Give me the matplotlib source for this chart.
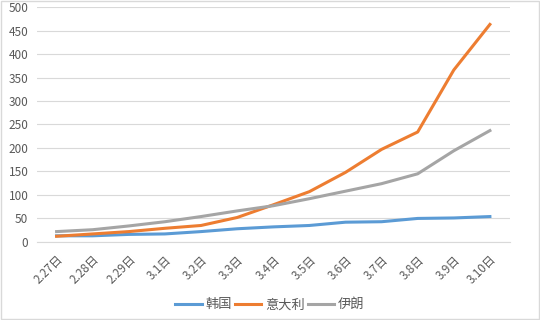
import matplotlib
matplotlib.use('Agg')
import matplotlib.pyplot as plt

plt.rcParams['font.family'] = ['Noto Sans CJK SC', 'DejaVu Sans']

dates = ['2.27日', '2.28日', '2.29日', '3.1日', '3.2日', '3.3日', '3.4日',
         '3.5日', '3.6日', '3.7日', '3.8日', '3.9日', '3.10日']
korea = [13, 13, 16, 17, 22, 28, 32, 35, 42, 43, 50, 51, 54]
italy = [12, 17, 22, 29, 35, 52, 79, 107, 148, 197, 234, 366, 463]
iran = [22, 26, 34, 43, 54, 66, 77, 92, 108, 124, 145, 194, 237]

fig = plt.figure(figsize=(5.4, 3.2), dpi=100)
ax = fig.add_axes([0.068, 0.244, 0.876, 0.734])

x = range(len(dates))
ax.plot(x, korea, color='#5B9BD5', lw=2.2, label='韩国')
ax.plot(x, italy, color='#ED7D31', lw=2.2, label='意大利')
ax.plot(x, iran, color='#A5A5A5', lw=2.2, label='伊朗')

ax.set_xlim(-0.55, len(dates) - 0.45)
ax.set_ylim(0, 500)
ax.set_yticks(range(0, 501, 50))
ax.set_xticks(list(x))
ax.set_xticklabels(dates, rotation=45, ha='right', rotation_mode='anchor')
ax.grid(axis='y', color='#D9D9D9', lw=0.8)
ax.set_axisbelow(True)
for s in ['top', 'right', 'left']:
    ax.spines[s].set_visible(False)
ax.spines['bottom'].set_color('#D9D9D9')
ax.tick_params(length=0, labelsize=8.5, colors='#595959')
ax.tick_params(axis='x', pad=8)
ax.tick_params(axis='y', pad=6)

fig.legend(loc='lower center', ncol=3, frameon=False, fontsize=9.5,
           bbox_to_anchor=(0.5, -0.01), handlelength=2.0, columnspacing=0.2,
           handletextpad=0.3, labelcolor='#595959')

# thin frame round the whole picture
fig.patches.append(plt.Rectangle((0.001, 0.002), 0.997, 0.995, transform=fig.transFigure,
                                 fill=False, edgecolor='#D9D9D9', lw=1))

fig.savefig('out.png', dpi=100)
